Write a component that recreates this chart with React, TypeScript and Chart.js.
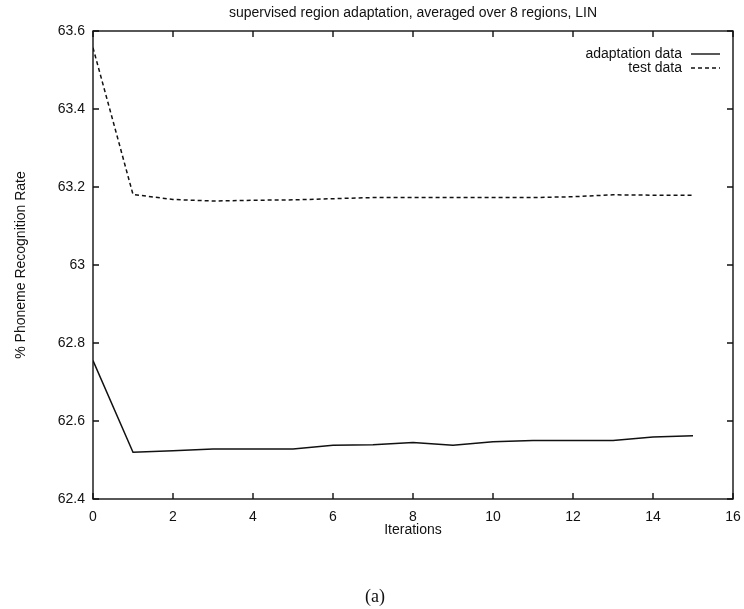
import React, { useEffect, useRef } from "react";
import { Chart, registerables } from "chart.js";

Chart.register(...registerables);

const iterations = [0, 1, 2, 3, 4, 5, 6, 7, 8, 9, 10, 11, 12, 13, 14, 15];
const adaptationData = [62.755, 62.52, 62.524, 62.528, 62.528, 62.528, 62.538, 62.539, 62.545, 62.538, 62.547, 62.55, 62.55, 62.55, 62.559, 62.562];
const testData = [63.557, 63.181, 63.168, 63.164, 63.166, 63.167, 63.17, 63.173, 63.173, 63.173, 63.173, 63.173, 63.175, 63.18, 63.179, 63.179];
const xTicks = [0, 2, 4, 6, 8, 10, 12, 14, 16];
const yTicks = [62.4, 62.6, 62.8, 63, 63.2, 63.4, 63.6];
const seriesNames = ["adaptation data", "test data"];
const titleText = "supervised region adaptation, averaged over 8 regions, LIN";
const xTitle = "Iterations";
const yTitle = "% Phoneme Recognition Rate";

const FONT = "'Liberation Sans', Arial, Helvetica, sans-serif";
const INK = "#111";

const framePlugin = {
  id: "gnuFrame",
  afterDatasetsDraw(chart: any) {
    const { ctx, chartArea, scales } = chart;
    const { left, right, top, bottom } = chartArea;
    ctx.save();
    ctx.strokeStyle = INK;
    ctx.lineWidth = 1.4;
    ctx.setLineDash([]);
    ctx.strokeRect(left, top, right - left, bottom - top);
    const tl = 6;
    ctx.beginPath();
    for (const v of xTicks) {
      const x = scales.x.getPixelForValue(v);
      ctx.moveTo(x, bottom);
      ctx.lineTo(x, bottom - tl);
      ctx.moveTo(x, top);
      ctx.lineTo(x, top + tl);
    }
    for (const v of yTicks) {
      const y = scales.y.getPixelForValue(v);
      ctx.moveTo(left, y);
      ctx.lineTo(left + tl, y);
      ctx.moveTo(right, y);
      ctx.lineTo(right - tl, y);
    }
    ctx.stroke();

    // title
    ctx.fillStyle = INK;
    ctx.font = `14px ${FONT}`;
    ctx.textAlign = "center";
    ctx.textBaseline = "middle";
    ctx.fillText(titleText, (left + right) / 2, 13);

    // legend (gnuplot style: text then line sample)
    const textRight = right - 51;
    const lx1 = right - 42;
    const lx2 = right - 13;
    const rows = [
      { y: top + 23, dash: [] as number[] },
      { y: top + 37, dash: [4, 3] },
    ];
    rows.forEach((r, i) => {
      ctx.textAlign = "right";
      ctx.fillText(seriesNames[i], textRight, r.y);
      ctx.beginPath();
      ctx.setLineDash(r.dash);
      ctx.lineWidth = 1.4;
      ctx.moveTo(lx1, r.y);
      ctx.lineTo(lx2, r.y);
      ctx.stroke();
    });
    ctx.restore();
  },
};

export default function App() {
  const ref = useRef<HTMLCanvasElement | null>(null);
  useEffect(() => {
    if (!ref.current) return;
    const chart = new Chart(ref.current, {
      type: "line",
      data: {
        labels: iterations,
        datasets: [
          {
            label: seriesNames[0],
            data: iterations.map((x, i) => ({ x, y: adaptationData[i] })),
            borderColor: INK,
            borderWidth: 1.5,
            pointRadius: 0,
            tension: 0,
            fill: false,
          },
          {
            label: seriesNames[1],
            data: iterations.map((x, i) => ({ x, y: testData[i] })),
            borderColor: INK,
            borderWidth: 1.5,
            borderDash: [4, 3],
            pointRadius: 0,
            tension: 0,
            fill: false,
          },
        ],
      },
      options: {
        animation: false,
        responsive: false,
        maintainAspectRatio: false,
        layout: { padding: { top: 31, right: 11, left: 0, bottom: 70 } },
        plugins: {
          legend: { display: false },
          title: { display: false },
          tooltip: { enabled: false },
        },
        scales: {
          x: {
            type: "linear",
            min: 0,
            max: 16,
            afterFit: (s: any) => {
              s.height = 40;
              s.paddingLeft = 0;
              s.paddingRight = 0;
            },
            afterBuildTicks: (s: any) => {
              s.ticks = xTicks.map((v) => ({ value: v }));
            },
            ticks: {
              color: INK,
              font: { family: FONT, size: 14 },
              padding: 10,
              maxRotation: 0,
              callback: (v: any) => String(v),
            },
            grid: { display: false, drawTicks: false },
            border: { display: false },
            title: {
              display: true,
              text: xTitle,
              color: INK,
              font: { family: FONT, size: 14 },
              padding: { top: 0, bottom: 0 },
            },
          },
          y: {
            type: "linear",
            min: 62.4,
            max: 63.6,
            afterFit: (s: any) => {
              s.width = 93;
              s.paddingTop = 0;
              s.paddingBottom = 0;
            },
            afterBuildTicks: (s: any) => {
              s.ticks = yTicks.map((v) => ({ value: v }));
            },
            ticks: {
              color: INK,
              font: { family: FONT, size: 14 },
              padding: 8,
              callback: (v: any) => String(Math.round(Number(v) * 10) / 10),
            },
            grid: { display: false, drawTicks: false },
            border: { display: false },
            title: {
              display: true,
              text: yTitle,
              color: INK,
              font: { family: FONT, size: 14 },
              padding: { top: 13, bottom: 0 },
            },
          },
        },
      },
      plugins: [framePlugin],
    });
    return () => chart.destroy();
  }, []);

  return (
    <div style={{ position: "absolute", left: 0, top: 0, width: 744, height: 609, background: "#fff" }}>
      <canvas ref={ref} width={744} height={609} style={{ display: "block", width: 744, height: 609 }} />
      <div
        style={{
          position: "absolute",
          left: 0,
          width: 750,
          top: 586,
          textAlign: "center",
          fontFamily: "'Liberation Serif', 'DejaVu Serif', serif",
          fontSize: 18,
          color: INK,
          lineHeight: "20px",
        }}
      >
        (a)
      </div>
    </div>
  );
}
